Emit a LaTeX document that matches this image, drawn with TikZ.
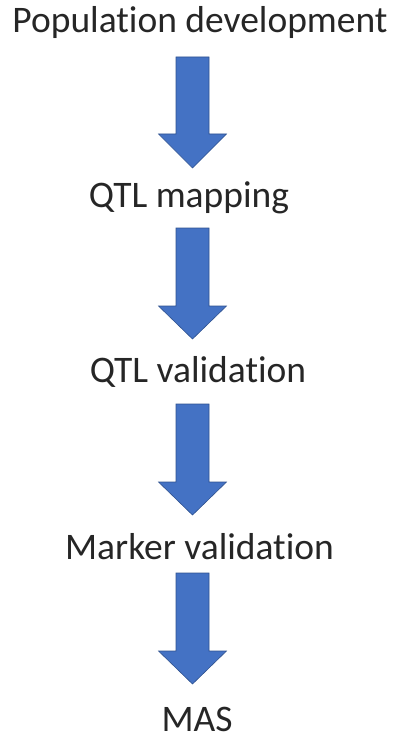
\documentclass[tikz,border=0pt]{standalone}
\usepackage{fontspec}
\setmainfont[Ligatures=NoCommon]{Carlito}
\definecolor{arrowblue}{HTML}{4472C4}
\definecolor{arrowedge}{HTML}{2F528F}
\newcommand{\nolig}{\kern0pt}
\begin{document}
\begin{tikzpicture}[x=1pt,y=-1pt,
  label/.style={inner sep=0pt,anchor=base,font=\fontsize{37.5}{44}\selectfont,text=black!85},
  blockarrow/.style={fill=arrowblue,draw=arrowedge,line width=0.6pt,line join=miter}]
\useasboundingbox (0,0) rectangle (402,738);
\node[label] (pop) at (200,33) {Populat\nolig ion development};
\node[label] (map) at (189,207) {QTL mapping};
\node[label] (val) at (198,382) {QTL validat\nolig ion};
\node[label] (mark) at (199.5,559) {Marker validat\nolig ion};
\node[label] (mas) at (197,731) {MAS};
\foreach \t/\b/\p in {57/134/168, 228/306/339, 404/482/515, 573/651/684}{
  \draw[blockarrow] (176,\t) -- (209,\t) -- (209,\b) -- (226.5,\b) -- (192.5,\p) -- (158.5,\b) -- (176,\b) -- cycle;
}
\end{tikzpicture}
\end{document}
